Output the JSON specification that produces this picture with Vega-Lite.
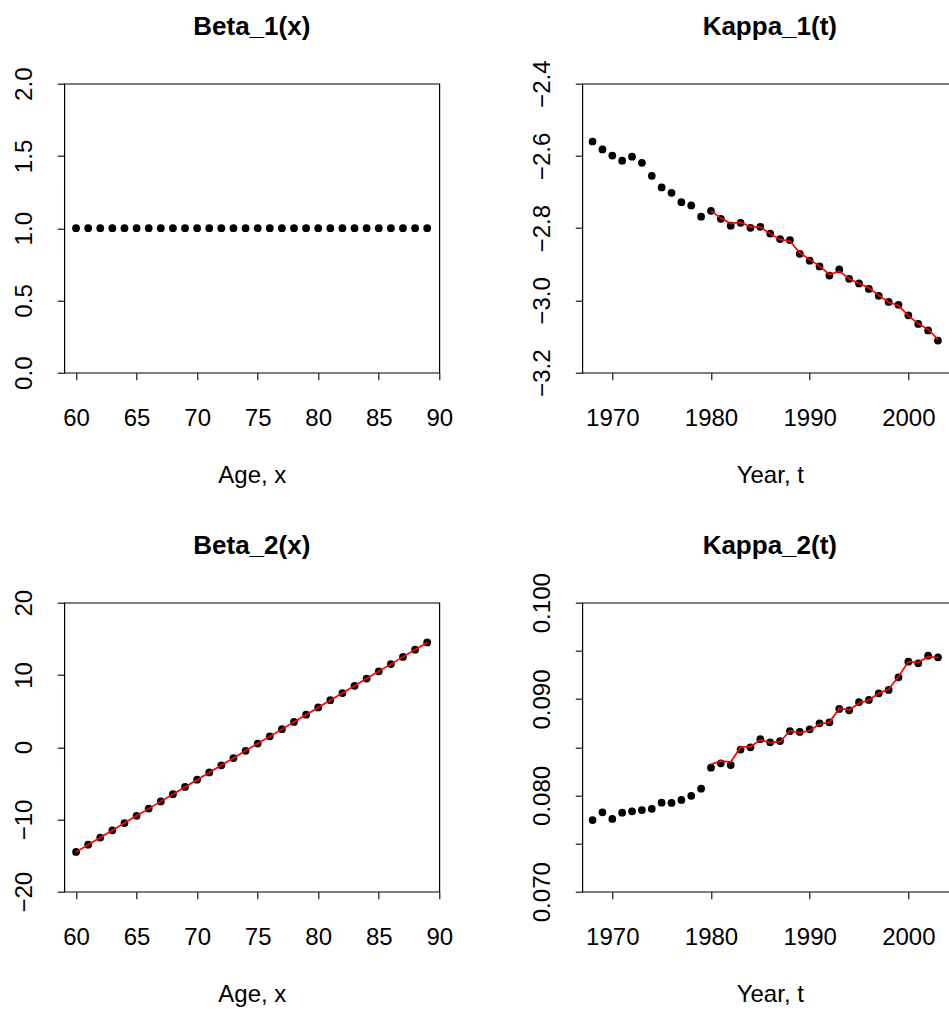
{
  "$schema": "https://vega.github.io/schema/vega-lite/v6.json",
  "autosize": {"type": "none"},
  "padding": {"left": 64.3, "top": 83.7, "right": 884.7, "bottom": 928.3},
  "background": "white",
  "config": {
    "font": "Liberation Sans",
    "view": {"stroke": "black", "strokeWidth": 1.2},
    "axis": {
      "grid": false,
      "domain": false,
      "tickColor": "black",
      "tickSize": 7,
      "tickWidth": 1.1,
      "labelColor": "black",
      "labelFont": "Liberation Sans",
      "labelFontSize": 24,
      "titleFont": "Liberation Sans",
      "titleFontSize": 24,
      "titleFontWeight": "normal",
      "titleColor": "black"
    },
    "axisX": {"labelPadding": 27, "titleY": 110, "titleBaseline": "alphabetic", "labelFlush": false},
    "axisY": {"labelAngle": -90, "labelAlign": "center", "labelBaseline": "alphabetic", "labelPadding": 26, "title": null, "labelFlush": false},
    "title": {"font": "Liberation Sans", "fontSize": 26, "fontWeight": "bold", "color": "black", "frame": "group", "anchor": "middle", "baseline": "alphabetic", "offset": 44}
  },
  "datasets": {
    "beta1": [
      {"x": 60, "y": 1}, {"x": 61, "y": 1}, {"x": 62, "y": 1}, {"x": 63, "y": 1}, {"x": 64, "y": 1},
      {"x": 65, "y": 1}, {"x": 66, "y": 1}, {"x": 67, "y": 1}, {"x": 68, "y": 1}, {"x": 69, "y": 1},
      {"x": 70, "y": 1}, {"x": 71, "y": 1}, {"x": 72, "y": 1}, {"x": 73, "y": 1}, {"x": 74, "y": 1},
      {"x": 75, "y": 1}, {"x": 76, "y": 1}, {"x": 77, "y": 1}, {"x": 78, "y": 1}, {"x": 79, "y": 1},
      {"x": 80, "y": 1}, {"x": 81, "y": 1}, {"x": 82, "y": 1}, {"x": 83, "y": 1}, {"x": 84, "y": 1},
      {"x": 85, "y": 1}, {"x": 86, "y": 1}, {"x": 87, "y": 1}, {"x": 88, "y": 1}, {"x": 89, "y": 1}
    ],
    "beta2": [
      {"x": 60, "y": -14.5}, {"x": 61, "y": -13.5}, {"x": 62, "y": -12.5}, {"x": 63, "y": -11.5}, {"x": 64, "y": -10.5},
      {"x": 65, "y": -9.5}, {"x": 66, "y": -8.5}, {"x": 67, "y": -7.5}, {"x": 68, "y": -6.5}, {"x": 69, "y": -5.5},
      {"x": 70, "y": -4.5}, {"x": 71, "y": -3.5}, {"x": 72, "y": -2.5}, {"x": 73, "y": -1.5}, {"x": 74, "y": -0.5},
      {"x": 75, "y": 0.5}, {"x": 76, "y": 1.5}, {"x": 77, "y": 2.5}, {"x": 78, "y": 3.5}, {"x": 79, "y": 4.5},
      {"x": 80, "y": 5.5}, {"x": 81, "y": 6.5}, {"x": 82, "y": 7.5}, {"x": 83, "y": 8.5}, {"x": 84, "y": 9.5},
      {"x": 85, "y": 10.5}, {"x": 86, "y": 11.5}, {"x": 87, "y": 12.5}, {"x": 88, "y": 13.5}, {"x": 89, "y": 14.5}
    ],
    "kappa1": [
      {"x": 1968, "y": -2.560}, {"x": 1969, "y": -2.582}, {"x": 1970, "y": -2.599}, {"x": 1971, "y": -2.613},
      {"x": 1972, "y": -2.602}, {"x": 1973, "y": -2.619}, {"x": 1974, "y": -2.655}, {"x": 1975, "y": -2.687},
      {"x": 1976, "y": -2.702}, {"x": 1977, "y": -2.728}, {"x": 1978, "y": -2.737}, {"x": 1979, "y": -2.768},
      {"x": 1980, "y": -2.752}, {"x": 1981, "y": -2.774}, {"x": 1982, "y": -2.793}, {"x": 1983, "y": -2.785},
      {"x": 1984, "y": -2.799}, {"x": 1985, "y": -2.796}, {"x": 1986, "y": -2.815}, {"x": 1987, "y": -2.830},
      {"x": 1988, "y": -2.833}, {"x": 1989, "y": -2.871}, {"x": 1990, "y": -2.890}, {"x": 1991, "y": -2.906},
      {"x": 1992, "y": -2.931}, {"x": 1993, "y": -2.914}, {"x": 1994, "y": -2.940}, {"x": 1995, "y": -2.953},
      {"x": 1996, "y": -2.968}, {"x": 1997, "y": -2.987}, {"x": 1998, "y": -3.004}, {"x": 1999, "y": -3.012},
      {"x": 2000, "y": -3.041}, {"x": 2001, "y": -3.065}, {"x": 2002, "y": -3.083}, {"x": 2003, "y": -3.111}
    ],
    "kappa1fit": [
      {"x": 1980, "y": -2.752}, {"x": 1981, "y": -2.772}, {"x": 1982, "y": -2.787}, {"x": 1983, "y": -2.783},
      {"x": 1984, "y": -2.797}, {"x": 1985, "y": -2.797}, {"x": 1986, "y": -2.815}, {"x": 1987, "y": -2.831},
      {"x": 1988, "y": -2.836}, {"x": 1989, "y": -2.868}, {"x": 1990, "y": -2.887}, {"x": 1991, "y": -2.905},
      {"x": 1992, "y": -2.928}, {"x": 1993, "y": -2.919}, {"x": 1994, "y": -2.940}, {"x": 1995, "y": -2.953},
      {"x": 1996, "y": -2.965}, {"x": 1997, "y": -2.986}, {"x": 1998, "y": -3.005}, {"x": 1999, "y": -3.014},
      {"x": 2000, "y": -3.042}, {"x": 2001, "y": -3.064}, {"x": 2002, "y": -3.080}, {"x": 2003, "y": -3.108}
    ],
    "kappa2": [
      {"x": 1968, "y": 0.07744}, {"x": 1969, "y": 0.07824}, {"x": 1970, "y": 0.07755}, {"x": 1971, "y": 0.07820},
      {"x": 1972, "y": 0.07834}, {"x": 1973, "y": 0.07848}, {"x": 1974, "y": 0.07861}, {"x": 1975, "y": 0.07924},
      {"x": 1976, "y": 0.07921}, {"x": 1977, "y": 0.07952}, {"x": 1978, "y": 0.07996}, {"x": 1979, "y": 0.08069},
      {"x": 1980, "y": 0.08287}, {"x": 1981, "y": 0.08333}, {"x": 1982, "y": 0.08315}, {"x": 1983, "y": 0.08476},
      {"x": 1984, "y": 0.08499}, {"x": 1985, "y": 0.08583}, {"x": 1986, "y": 0.08551}, {"x": 1987, "y": 0.08564},
      {"x": 1988, "y": 0.08668}, {"x": 1989, "y": 0.08658}, {"x": 1990, "y": 0.08686}, {"x": 1991, "y": 0.08748},
      {"x": 1992, "y": 0.08758}, {"x": 1993, "y": 0.08897}, {"x": 1994, "y": 0.08883}, {"x": 1995, "y": 0.08969},
      {"x": 1996, "y": 0.08990}, {"x": 1997, "y": 0.09059}, {"x": 1998, "y": 0.09094}, {"x": 1999, "y": 0.09226},
      {"x": 2000, "y": 0.09388}, {"x": 2001, "y": 0.09371}, {"x": 2002, "y": 0.09450}, {"x": 2003, "y": 0.09433}
    ],
    "kappa2fit": [
      {"x": 1980, "y": 0.08322}, {"x": 1981, "y": 0.08357}, {"x": 1982, "y": 0.08346}, {"x": 1983, "y": 0.08500},
      {"x": 1984, "y": 0.08505}, {"x": 1985, "y": 0.08575}, {"x": 1986, "y": 0.08547}, {"x": 1987, "y": 0.08557},
      {"x": 1988, "y": 0.08668}, {"x": 1989, "y": 0.08650}, {"x": 1990, "y": 0.08671}, {"x": 1991, "y": 0.08741},
      {"x": 1992, "y": 0.08758}, {"x": 1993, "y": 0.08904}, {"x": 1994, "y": 0.08886}, {"x": 1995, "y": 0.08956},
      {"x": 1996, "y": 0.08990}, {"x": 1997, "y": 0.09059}, {"x": 1998, "y": 0.09101}, {"x": 1999, "y": 0.09232},
      {"x": 2000, "y": 0.09388}, {"x": 2001, "y": 0.09381}, {"x": 2002, "y": 0.09439}, {"x": 2003, "y": 0.09429}
    ]
  },
  "columns": 2,
  "spacing": {"row": 230, "column": 143},
  "bounds": "flush",
  "concat": [
    {
      "width": 375, "height": 289,
      "title": {"text": "Beta_1(x)", "dy": 16.7},
      "data": {"name": "beta1"},
      "mark": {"type": "point", "filled": true, "size": 60, "color": "black", "opacity": 1},
      "encoding": {
        "x": {"field": "x", "type": "quantitative", "scale": {"domain": [59.03, 90], "nice": false, "zero": false},
              "axis": {"values": [60, 65, 70, 75, 80, 85, 90], "title": "Age, x", "format": "d"}},
        "y": {"field": "y", "type": "quantitative", "scale": {"domain": [0, 2], "nice": false, "zero": false},
              "axis": {"values": [0, 0.5, 1, 1.5, 2], "format": ".1f"}}
      }
    },
    {
      "width": 375, "height": 289,
      "title": {"text": "Kappa_1(t)", "dy": 23.7},
      "layer": [
        {
          "data": {"name": "kappa1"},
          "mark": {"type": "point", "filled": true, "size": 60, "color": "black", "opacity": 1},
          "encoding": {
            "x": {"field": "x", "type": "quantitative", "scale": {"domain": [1966.96, 2004.96], "nice": false, "zero": false},
                  "axis": {"values": [1970, 1980, 1990, 2000], "title": "Year, t", "format": "d"}},
            "y": {"field": "y", "type": "quantitative", "scale": {"domain": [-3.2, -2.4], "nice": false, "zero": false},
                  "axis": {"values": [-3.2, -3.0, -2.8, -2.6, -2.4], "format": ".1f"}}
          }
        },
        {
          "data": {"name": "kappa1fit"},
          "mark": {"type": "line", "color": "#FF0000", "strokeWidth": 1.7},
          "encoding": {
            "x": {"field": "x", "type": "quantitative"},
            "y": {"field": "y", "type": "quantitative"}
          }
        }
      ]
    },
    {
      "width": 375, "height": 289,
      "title": {"text": "Beta_2(x)", "dy": 13.3},
      "layer": [
        {
          "data": {"name": "beta2"},
          "mark": {"type": "point", "filled": true, "size": 60, "color": "black", "opacity": 1},
          "encoding": {
            "x": {"field": "x", "type": "quantitative", "scale": {"domain": [59.03, 90], "nice": false, "zero": false},
                  "axis": {"values": [60, 65, 70, 75, 80, 85, 90], "title": "Age, x", "format": "d"}},
            "y": {"field": "y", "type": "quantitative", "scale": {"domain": [-20, 20], "nice": false, "zero": false},
                  "axis": {"values": [-20, -10, 0, 10, 20], "format": "d"}}
          }
        },
        {
          "data": {"name": "beta2"},
          "mark": {"type": "line", "color": "#FF0000", "strokeWidth": 1.7},
          "encoding": {
            "x": {"field": "x", "type": "quantitative"},
            "y": {"field": "y", "type": "quantitative"}
          }
        }
      ]
    },
    {
      "width": 375, "height": 289,
      "title": {"text": "Kappa_2(t)", "dy": 30},
      "layer": [
        {
          "data": {"name": "kappa2"},
          "mark": {"type": "point", "filled": true, "size": 60, "color": "black", "opacity": 1},
          "encoding": {
            "x": {"field": "x", "type": "quantitative", "scale": {"domain": [1966.96, 2004.96], "nice": false, "zero": false},
                  "axis": {"values": [1970, 1980, 1990, 2000], "title": "Year, t", "format": "d"}},
            "y": {"field": "y", "type": "quantitative", "scale": {"domain": [0.07, 0.10], "nice": false, "zero": false},
                  "axis": {"values": [0.07, 0.075, 0.08, 0.085, 0.09, 0.095, 0.10],
                           "labelExpr": "round(datum.value * 1000) % 10 == 0 ? format(datum.value, '.3f') : ''"}}
          }
        },
        {
          "data": {"name": "kappa2fit"},
          "mark": {"type": "line", "color": "#FF0000", "strokeWidth": 1.7},
          "encoding": {
            "x": {"field": "x", "type": "quantitative"},
            "y": {"field": "y", "type": "quantitative"}
          }
        }
      ]
    }
  ]
}
